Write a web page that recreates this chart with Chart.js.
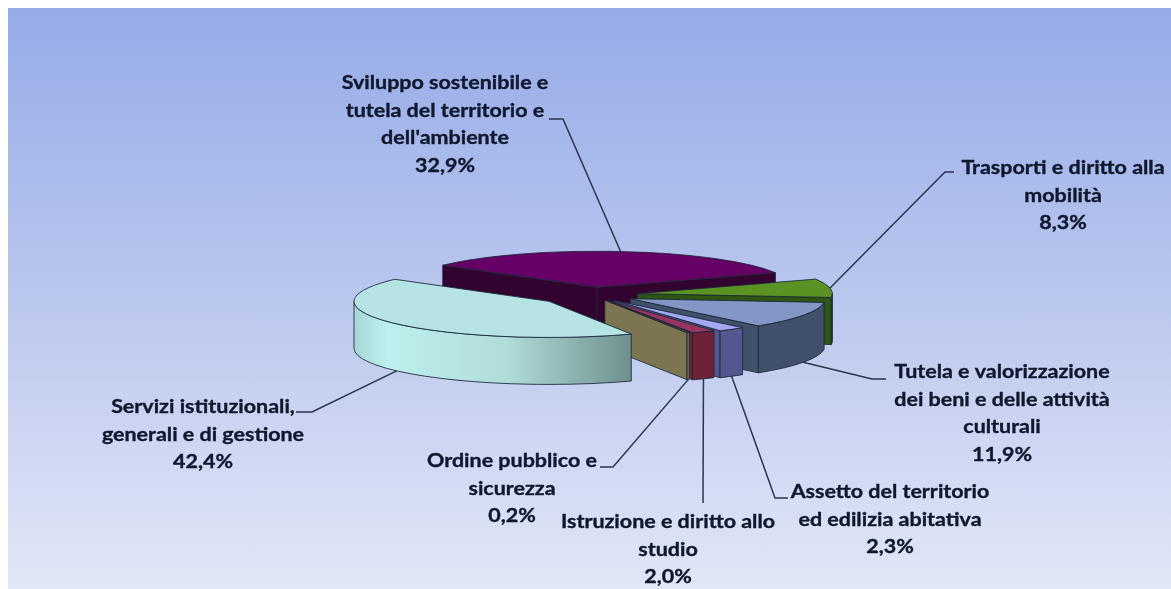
<!DOCTYPE html>
<html>
<head>
<meta charset="utf-8">
<script src="https://cdn.jsdelivr.net/npm/chart.js@4"></script>
<style>
    html, body { margin: 0; padding: 0; background: #fff; }
    #wrap {
        position: absolute; left: 8px; top: 8px; width: 1163px; height: 581px;
        background: linear-gradient(180deg, #96abe8 0%, #bac7ee 50%, #e2e7f6 100%);
    }
    canvas { display: block; }
</style>
</head>
<body>
<div id="wrap"><canvas id="myChart" width="1163" height="581"></canvas></div>
<script>
// Clockwise from the back slice, which is also back-to-front paint order
const categories = [
    ['Sviluppo sostenibile e', 'tutela del territorio e', "dell'ambiente"],
    ['Trasporti e diritto alla', 'mobilità'],
    ['Tutela e valorizzazione', 'dei beni e delle attività', 'culturali'],
    ['Assetto del territorio', 'ed edilizia abitativa'],
    ['Istruzione e diritto allo', 'studio'],
    ['Ordine pubblico e', 'sicurezza'],
    ['Servizi istituzionali,', 'generali e di gestione'],
];
const values = [32.9, 8.3, 11.9, 2.3, 2.0, 0.2, 42.4];

const topColors = ['#660066', '#5b9224', '#8496c6', '#a4a8f2', '#993360', '#7d7552', '#b6e3e4'];
const wallColors = ['#33032f', '#2f5514', '#40506a', '#55568f', '#6d2238', '#7d7552', '#9cc9c8'];

// Explosion of each slice, in pixels of the unsquashed pie
const explode = [42, 46, 43, 37, 33, 30, 55];

// Label block: centre x, first line y; leader: text end and elbow
const labelBoxes = [
    { x: 437, y: 75, from: [541, 111], elbow: [555, 111] },
    { x: 1055, y: 160, from: [946, 164], elbow: [937, 164] },
    { x: 994, y: 364, from: [878, 371], elbow: [864, 371] },
    { x: 882, y: 484, from: [780, 490], elbow: [767, 490] },
    { x: 660, y: 514, from: [695, 495], elbow: null },
    { x: 504, y: 453, from: [592, 459], elbow: [605, 459] },
    { x: 195, y: 399, from: [288, 404], elbow: [304, 404] },
];

const SQUASH = 0.185;
const DEPTH = 47;
const LINE = 27.7;
const TEXT_STRETCH = 1.16;
const EDGE = 'rgba(25, 40, 55, 0.85)';

function sliceGeometry(arc, i) {
    const mid = (arc.startAngle + arc.endAngle) / 2;
    return {
        mid: mid,
        cx: arc.x + Math.cos(mid) * explode[i],
        cy: arc.y + Math.sin(mid) * explode[i] * SQUASH,
        a: arc.outerRadius,
        b: arc.outerRadius * SQUASH,
    };
}

function drawFace(ctx, g, t, color) {
    const px = g.cx + g.a * Math.cos(t);
    const py = g.cy + g.b * Math.sin(t);
    ctx.beginPath();
    ctx.moveTo(g.cx, g.cy);
    ctx.lineTo(px, py);
    ctx.lineTo(px, py + DEPTH);
    ctx.lineTo(g.cx, g.cy + DEPTH);
    ctx.closePath();
    ctx.fillStyle = color;
    ctx.fill();
    ctx.stroke();
}

function drawOuterWall(ctx, g, from, to, i) {
    for (const base of [0, Math.PI * 2]) {
        const t1 = Math.max(from, base);
        const t2 = Math.min(to, base + Math.PI);
        if (t2 <= t1) continue;
        let fill = wallColors[i];
        if (i === 6) {
            // the big slice catches the light on its left side
            fill = ctx.createLinearGradient(g.cx - g.a, 0, g.cx + g.a * Math.cos(t1), 0);
            fill.addColorStop(0, '#a6d6d6');
            fill.addColorStop(0.12, '#bdf0ee');
            fill.addColorStop(0.55, '#b0dcd9');
            fill.addColorStop(1, '#6e908e');
        }
        ctx.beginPath();
        ctx.ellipse(g.cx, g.cy, g.a, g.b, 0, t1, t2);
        ctx.ellipse(g.cx, g.cy + DEPTH, g.a, g.b, 0, t2, t1, true);
        ctx.closePath();
        ctx.fillStyle = fill;
        ctx.fill();
        ctx.stroke();
    }
}

const pie3d = {
    id: 'pie3d',
    beforeDatasetDraw(chart, args) {
        const ctx = chart.ctx;
        args.meta.data.forEach((arc, i) => {
            const g = sliceGeometry(arc, i);
            const t1 = arc.startAngle;
            const t2 = arc.endAngle;
            ctx.save();
            ctx.strokeStyle = EDGE;
            ctx.lineWidth = 1;
            if (Math.cos(t1) < 0) drawFace(ctx, g, t1, wallColors[i]);
            if (Math.cos(t2) > 0) drawFace(ctx, g, t2, wallColors[i]);
            drawOuterWall(ctx, g, t1, t2, i);
            ctx.restore();

            // top of the slice is the library's own arc, flattened
            ctx.save();
            ctx.translate(g.cx, g.cy);
            ctx.scale(1, SQUASH);
            ctx.translate(-arc.x, -arc.y);
            arc.draw(ctx, chart.chartArea);
            ctx.restore();

            ctx.save();
            ctx.strokeStyle = EDGE;
            ctx.lineWidth = 1;
            ctx.beginPath();
            ctx.moveTo(g.cx, g.cy);
            ctx.ellipse(g.cx, g.cy, g.a, g.b, 0, t1, t2);
            ctx.closePath();
            ctx.stroke();
            ctx.restore();
        });
        return false;
    },
    afterDatasetsDraw(chart) {
        const ctx = chart.ctx;
        const arcs = chart.getDatasetMeta(0).data;
        ctx.save();
        arcs.forEach((arc, i) => {
            const g = sliceGeometry(arc, i);
            const box = labelBoxes[i];

            // leader goes to the edge of the slice, under the wall if it faces us
            const tipX = g.cx + g.a * Math.cos(g.mid);
            const tipY = g.cy + g.b * Math.sin(g.mid) + (Math.sin(g.mid) > 0 ? DEPTH : 0);
            ctx.strokeStyle = '#2b3550';
            ctx.lineWidth = 1.5;
            ctx.beginPath();
            ctx.moveTo(box.from[0], box.from[1]);
            if (box.elbow) ctx.lineTo(box.elbow[0], box.elbow[1]);
            ctx.lineTo(tipX, tipY);
            ctx.stroke();

            // the reference text is a little wider than Lato, so stretch it
            const lines = categories[i].concat(values[i].toFixed(1).replace('.', ',') + '%');
            ctx.save();
            ctx.translate(box.x, box.y);
            ctx.scale(TEXT_STRETCH, 1);
            ctx.fillStyle = '#10182e';
            ctx.strokeStyle = '#10182e';
            ctx.lineWidth = 0.35;
            ctx.font = 'bold 18.5px Lato';
            ctx.textAlign = 'center';
            ctx.textBaseline = 'middle';
            lines.forEach((line, n) => {
                ctx.fillText(line, 0, n * LINE);
                ctx.strokeText(line, 0, n * LINE);
            });
            ctx.restore();
        });
        ctx.restore();
    }
};

const config = {
    type: 'pie',
    data: {
        labels: categories,
        datasets: [{
            data: values,
            backgroundColor: topColors,
            borderWidth: 0
        }]
    },
    options: {
        responsive: false,
        animation: false,
        rotation: 307.7,
        radius: 195,
        layout: {
            padding: { left: 5, bottom: 7 }
        },
        plugins: {
            legend: { display: false },
            tooltip: { enabled: false }
        }
    },
    plugins: [pie3d]
};

const context = document.getElementById('myChart').getContext('2d');
const myChart = new Chart(context, config);
</script>
</body>
</html>
